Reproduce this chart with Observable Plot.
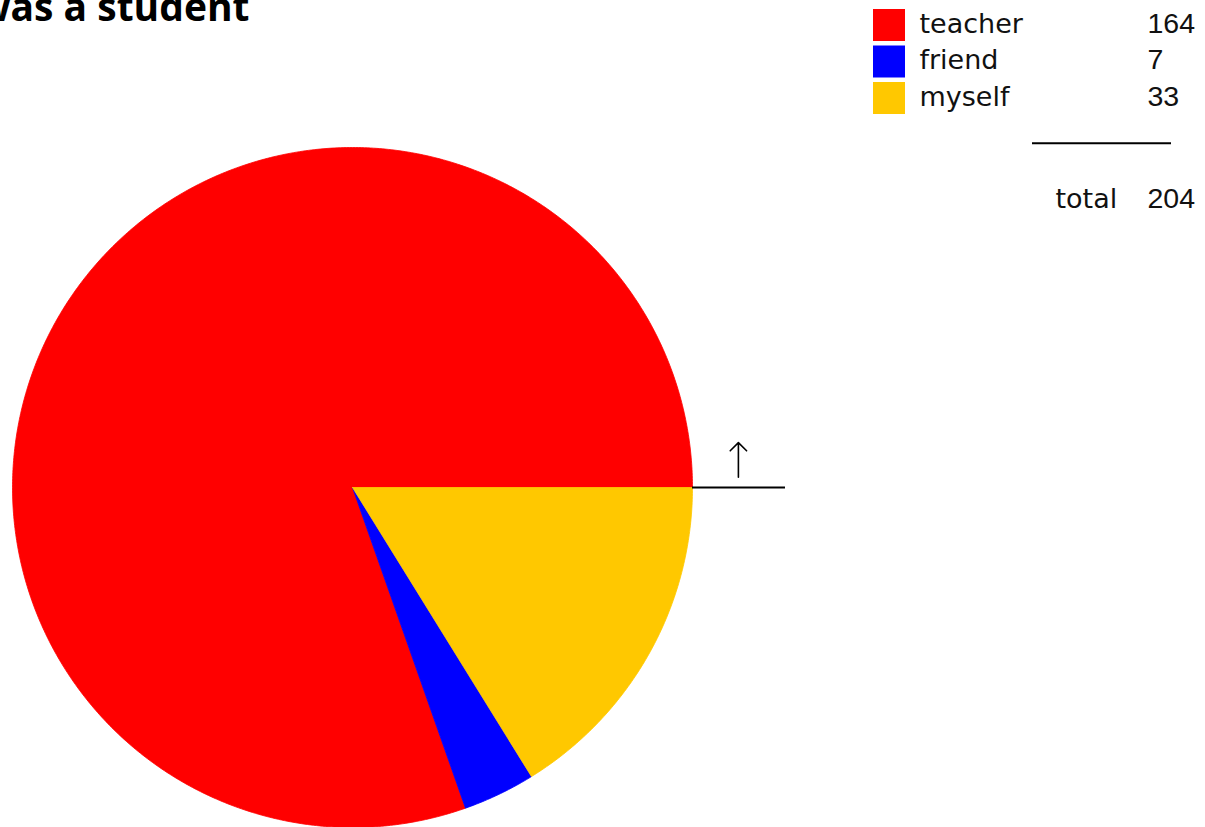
<!DOCTYPE html>
<html>
<head>
<meta charset="utf-8">
<script src="https://cdn.jsdelivr.net/npm/d3@7"></script>
<script src="https://cdn.jsdelivr.net/npm/@observablehq/plot@0.6"></script>
<style>
  html, body { margin: 0; padding: 0; background: #fff; }
  #wrap { position: relative; width: 1205px; height: 827px; overflow: hidden; }
  #legend { position: absolute; left: 865px; top: 0px; }
</style>
</head>
<body>
<div id="wrap"><div id="chart"></div><div id="legend"></div></div>
<script>
// ---- data ----
const categories = ["teacher", "friend", "myself"];
const values = [164, 7, 33];
const colors = ["#ff0000", "#0000ff", "#ffc800"];
const totalLabel = "total";
const titleText = "was a student";

const total = d3.sum(values);

// ---- pie geometry from data (angles CCW from east, unit radius) ----
const pie = d3.pie().sort(null).value(d => d.value);
const arcs = pie(categories.map((c, i) => ({label: c, value: values[i], color: colors[i]})));
const slices = arcs.map(a => {
  const n = Math.max(2, Math.ceil((a.endAngle - a.startAngle) / (2 * Math.PI) * 720) + 1);
  const pts = [{x: 0, y: 0}];
  for (let k = 0; k < n; k++) {
    const t = a.startAngle + (a.endAngle - a.startAngle) * k / (n - 1);
    pts.push({x: Math.cos(t), y: Math.sin(t)});
  }
  pts.push({x: 0, y: 0});
  return {color: a.data.color, pts};
});

// annotation (leader line + arrow) in unit coordinates
const leaderEnd = 1.2735;
const arrowX = 1.135;

const chart = Plot.plot({
  width: 1205,
  height: 827,
  margin: 0,
  x: {domain: [-1, 1], range: [12, 692], axis: null},
  y: {domain: [-1, 1], range: [827, 147], axis: null},
  marks: [
    ...slices.map(s => Plot.line(s.pts, {x: "x", y: "y", fill: s.color, stroke: s.color, strokeWidth: 0.8, curve: "linear"})),
    Plot.ruleY([0], {x1: 1, x2: leaderEnd, stroke: "#000", strokeWidth: 2}),
    Plot.arrow([0], {x1: arrowX, y1: 0.03, x2: arrowX, y2: 0.132, stroke: "#000", strokeWidth: 1.6, headLength: 17, headAngle: 90}),
    Plot.text([titleText], {text: d => d, frameAnchor: "top-left", dx: 249, dy: 20, textAnchor: "end", lineAnchor: "bottom",
      fontSize: 39, fontWeight: "bold", fontFamily: "Open Sans", fill: "#000"})
  ],
  style: {background: "#fff", overflow: "hidden"}
});
document.getElementById("chart").appendChild(chart);

// ---- legend ----
const rows = categories.map((c, i) => ({label: c, value: values[i], color: colors[i], top: 9 + i * 36.5}));
const legend = Plot.plot({
  width: 340,
  height: 220,
  margin: 0,
  x: {domain: [0, 340], range: [0, 340], axis: null},
  y: {domain: [0, 220], range: [0, 220], axis: null},
  marks: [
    Plot.rect(rows, {x1: 8, x2: 40, y1: d => d.top, y2: d => d.top + 32, fill: "color"}),
    Plot.text(rows, {x: 54, y: d => d.top + 23, text: "label", textAnchor: "start", lineAnchor: "bottom",
      fontSize: 27, fontFamily: "DejaVu Sans", fill: "#111"}),
    Plot.text(rows, {x: 282, y: d => d.top + 23, text: d => String(d.value), textAnchor: "start", lineAnchor: "bottom",
      fontSize: 28.5, fontFamily: "Liberation Sans", fill: "#111"}),
    Plot.ruleY([142.7], {x1: 167, x2: 306, stroke: "#000", strokeWidth: 2}),
    Plot.text([totalLabel], {x: 190, y: 207, text: d => d, textAnchor: "start", lineAnchor: "bottom",
      fontSize: 27, fontFamily: "DejaVu Sans", fill: "#111"}),
    Plot.text([total], {x: 282, y: 207, text: d => String(d), textAnchor: "start", lineAnchor: "bottom",
      fontSize: 28.5, fontFamily: "Liberation Sans", fill: "#111"})
  ],
  style: {background: "transparent", overflow: "visible"}
});
document.getElementById("legend").appendChild(legend);
</script>
</body>
</html>
